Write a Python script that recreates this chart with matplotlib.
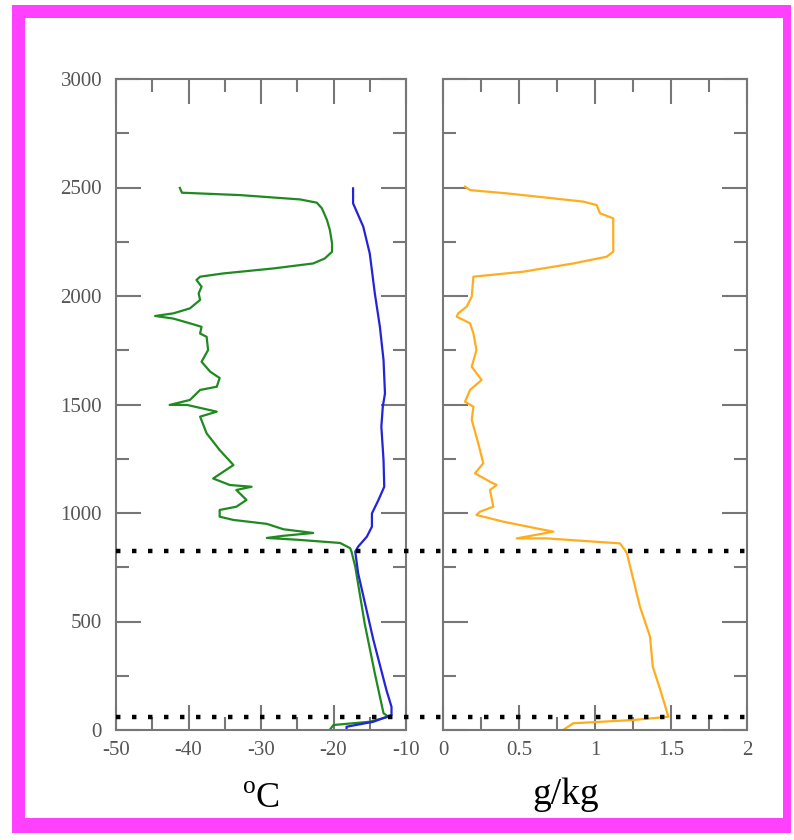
import matplotlib
matplotlib.use("Agg")
import matplotlib.pyplot as plt
from matplotlib.patches import Rectangle
from matplotlib.lines import Line2D
from matplotlib import transforms
from matplotlib.ticker import MultipleLocator

plt.rcParams['font.family'] = ['Liberation Serif', 'DejaVu Serif']
plt.rcParams['mathtext.fontset'] = 'custom'
plt.rcParams['mathtext.rm'] = 'Liberation Serif'
plt.rcParams['axes.unicode_minus'] = False

# Green profile (deg C), path from top of sounding downward
green_t = [-41.2, -40.9, -32.9, -24.6, -22.3, -21.6, -20.9, -20.5, -20.2, -20.2,
           -21.2, -22.8, -28.3, -35.2, -38.4, -38.9, -38.2, -38.6, -38.4, -39.8,
           -42.1, -44.6, -42.1, -39.8, -38.2, -38.4, -37.5, -37.3, -38.2, -37.0,
           -35.7, -36.1, -38.4, -39.8, -42.6, -40.2, -36.1, -38.4, -37.5, -35.7,
           -33.8, -35.2, -36.6, -34.3, -31.3, -33.4, -32.0, -33.4, -35.7, -35.7,
           -33.8, -29.2, -26.9, -22.8, -26.9, -29.2, -25.1, -19.1, -17.7, -17.5,
           -17.0, -15.7, -14.3, -13.1, -12.4, -15.0, -20.0, -20.5]
green_z = [2498, 2476, 2465, 2445, 2430, 2404, 2350, 2304, 2243, 2204,
           2173, 2150, 2127, 2104, 2089, 2074, 2043, 2012, 1982, 1943,
           1920, 1908, 1896, 1874, 1858, 1827, 1812, 1751, 1697, 1651,
           1622, 1582, 1567, 1521, 1498, 1498, 1467, 1444, 1367, 1290,
           1221, 1190, 1159, 1129, 1121, 1106, 1060, 1029, 1014, 983,
           968, 950, 925, 908, 895, 885, 877, 862, 838, 820,
           753, 491, 261, 77, 61, 38, 23, 2]

# Blue profile (deg C)
blue_t = [-17.3, -17.3, -15.9, -15.0, -14.3, -13.6, -13.1, -12.9, -13.2, -13.4,
          -13.1, -13.0, -13.8, -14.7, -14.7, -15.4, -16.6, -17.0, -16.6, -14.5,
          -12.7, -12.0, -12.0, -14.5, -18.2, -18.2]
blue_z = [2496, 2427, 2320, 2196, 2012, 1858, 1705, 1551, 1490, 1398,
          1244, 1121, 1060, 998, 937, 891, 845, 822, 722, 415,
          184, 107, 69, 38, 15, 0]

# Orange profile (g/kg)
mix_q = [0.145, 0.178, 0.419, 0.923, 1.011, 1.033, 1.12, 1.12, 1.077, 0.857,
         0.528, 0.2, 0.189, 0.156, 0.1, 0.09, 0.178, 0.2, 0.22, 0.189,
         0.254, 0.178, 0.145, 0.2, 0.189, 0.232, 0.265, 0.21, 0.309, 0.353,
         0.309, 0.331, 0.243, 0.22, 0.397, 0.616, 0.726, 0.485, 0.682, 1.164,
         1.197, 1.21, 1.296, 1.362, 1.38, 1.43, 1.483, 1.25, 0.857, 0.79]
mix_z = [2504, 2488, 2473, 2435, 2419, 2381, 2358, 2204, 2181, 2150,
         2112, 2089, 1997, 1951, 1920, 1905, 1874, 1828, 1751, 1674,
         1613, 1567, 1513, 1490, 1429, 1321, 1229, 1183, 1144, 1129,
         1106, 1029, 1006, 991, 960, 929, 914, 883, 883, 860,
         829, 814, 568, 430, 292, 184, 61, 46, 31, 0]

# Layer boundaries (m)
layer_heights = [825, 60]

y_ticks = [0, 500, 1000, 1500, 2000, 2500, 3000]
t_ticks = [-50, -40, -30, -20, -10]
t_tick_labels = ['-50', '-40', '-30', '-20', '-10']
q_ticks = [0, 0.5, 1, 1.5, 2]
q_tick_labels = ['0', '0.5', '1', '1.5', '2']

W, H = 794, 840
fig = plt.figure(figsize=(W / 100, H / 100), dpi=100)

# Magenta frame around the figure
fig.patches.append(Rectangle((12 / W, 1 - 833 / H), (791 - 12) / W, (833 - 5) / H,
                             transform=fig.transFigure, facecolor='#ff40ff',
                             edgecolor='none', zorder=-2))
fig.patches.append(Rectangle((25 / W, 1 - 818 / H), (783 - 25) / W, (818 - 18) / H,
                             transform=fig.transFigure, facecolor='white',
                             edgecolor='none', zorder=-1))

ax1 = fig.add_axes([116 / W, 1 - 730 / H, 290 / W, 651 / H])
ax2 = fig.add_axes([443 / W, 1 - 730 / H, 304 / W, 651 / H])

ax1.plot(green_t, green_z, color='#1f8a1f', lw=1.6)
ax1.plot(blue_t, blue_z, color='#2323d8', lw=1.6)
ax2.plot(mix_q, mix_z, color='#ffad1f', lw=1.6)

ax1.set_xlim(-50, -10)
ax2.set_xlim(0, 2)
spine_col = '#777777'
label_col = '#555555'
for ax in (ax1, ax2):
    ax.set_ylim(0, 3000)
    ax.set_facecolor('none')
    ax.set_yticks(y_ticks)
    ax.yaxis.set_minor_locator(MultipleLocator(250))
    for s in ax.spines.values():
        s.set_color(spine_col)
        s.set_linewidth(1.5)
    ax.tick_params(which='both', direction='in', top=True, right=True,
                   color=spine_col, width=1.5, labelcolor=label_col,
                   labelsize=15)
    ax.tick_params(which='major', length=18)
    ax.tick_params(which='minor', length=9.5)
    ax.tick_params(axis='y', pad=10)
    ax.tick_params(axis='x', pad=8)

ax1.set_xticks(t_ticks)
ax1.set_xticklabels(t_tick_labels)
ax1.xaxis.set_minor_locator(MultipleLocator(5))
ax2.set_xticks(q_ticks)
ax2.set_xticklabels(q_tick_labels)
ax2.xaxis.set_minor_locator(MultipleLocator(0.25))
ax2.set_yticklabels([])

# Dotted layer boundaries spanning both panels
blend = transforms.blended_transform_factory(fig.transFigure, ax1.transData)
for z in layer_heights:
    fig.lines.append(Line2D([116 / W, 747 / W], [z, z], transform=blend,
                            color='black', lw=3.2, dashes=(1, 2.6),
                            dash_capstyle='butt', zorder=5))

fig.text(261 / W, 1 - 808 / H, r'$^{\mathrm{o}}$C', ha='center', va='baseline',
         fontsize=26, color='black')
fig.text(566 / W, 1 - 804 / H, 'g/kg', ha='center', va='baseline',
         fontsize=27, color='black')

fig.savefig('out.png', dpi=100, facecolor='white')
